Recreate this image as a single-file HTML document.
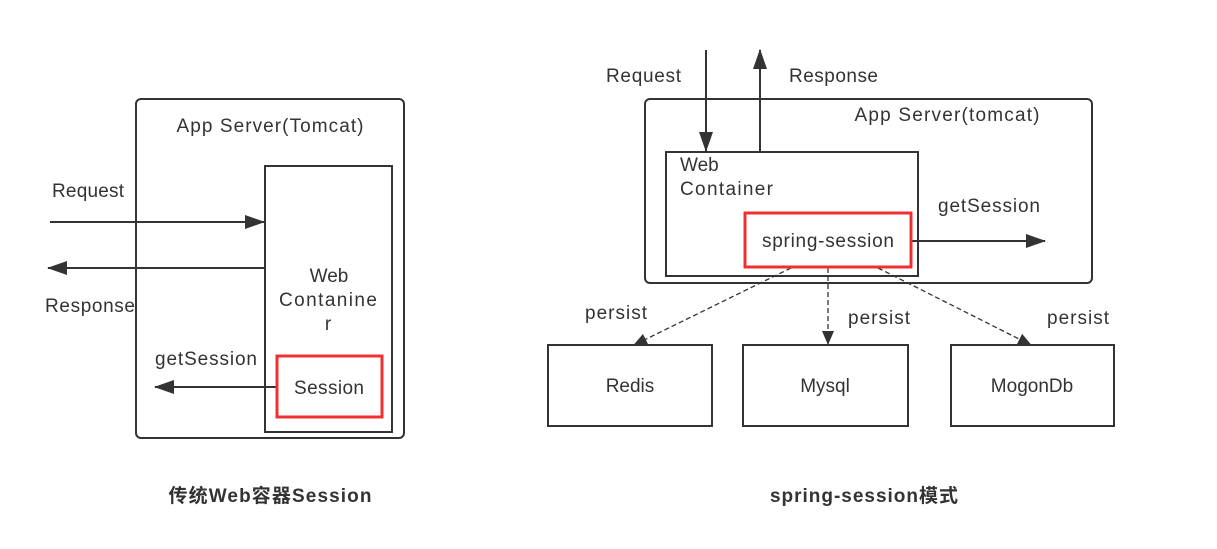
<!DOCTYPE html>
<html><head><meta charset="utf-8"><style>
html,body{margin:0;padding:0;background:#fff;}
svg text{font-family:"Liberation Sans","Noto Sans CJK SC",sans-serif;fill:#333;font-size:19px;}
</style></head><body>
<svg width="1217" height="544" viewBox="0 0 1217 544" xmlns="http://www.w3.org/2000/svg">
<defs>
<marker id="a" markerWidth="14" markerHeight="12" refX="13" refY="6" orient="auto" markerUnits="userSpaceOnUse"><path d="M0,0 L14,6 L0,12 Z" fill="#333"/></marker>
<marker id="b" markerWidth="20" markerHeight="14" refX="19" refY="7" orient="auto" markerUnits="userSpaceOnUse"><path d="M0,0 L20,7 L0,14 Z" fill="#333"/></marker>
</defs>
<g fill="none" stroke="#333" stroke-width="2">
<rect x="136" y="99" width="268" height="339" rx="5"/>
<rect x="265" y="166" width="127" height="266"/>
<line x1="50" y1="222" x2="264" y2="222" marker-end="url(#b)"/>
<line x1="265" y1="268" x2="48" y2="268" marker-end="url(#b)"/>
<line x1="277" y1="387" x2="155" y2="387" marker-end="url(#b)"/>
<rect x="645" y="99" width="447" height="184" rx="5"/>
<rect x="666" y="152" width="252" height="124"/>
<line x1="706" y1="50" x2="706" y2="151" marker-end="url(#b)"/>
<line x1="760" y1="152" x2="760" y2="50" marker-end="url(#b)"/>
<line x1="911" y1="241" x2="1045" y2="241" marker-end="url(#b)"/>
<rect x="548" y="345" width="164" height="81"/>
<rect x="743" y="345" width="165" height="81"/>
<rect x="951" y="345" width="163" height="81"/>
</g>
<g fill="none" stroke="#333" stroke-width="1.3" stroke-dasharray="5,3">
<line x1="791" y1="268" x2="634" y2="345" marker-end="url(#a)"/>
<line x1="828" y1="268" x2="828" y2="344" marker-end="url(#a)"/>
<line x1="878" y1="268" x2="1031" y2="345" marker-end="url(#a)"/>
</g>
<rect x="277" y="356" width="105" height="61" fill="#fff" stroke="#f03030" stroke-width="3"/>
<rect x="745" y="213" width="166" height="54" fill="#fff" stroke="#f03030" stroke-width="3"/>
<text x="270" y="132" text-anchor="middle" textLength="187">App Server(Tomcat)</text>
<text x="52" y="197" textLength="72">Request</text>
<text x="45" y="312" textLength="90">Response</text>
<text x="155" y="365" textLength="102">getSession</text>
<text x="329" y="282" text-anchor="middle">Web</text>
<text x="328" y="306" text-anchor="middle" textLength="98">Contanine</text>
<text x="328" y="330" text-anchor="middle">r</text>
<text x="329" y="394" text-anchor="middle" textLength="70">Session</text>
<text x="606" y="82" textLength="75">Request</text>
<text x="789" y="82" textLength="89">Response</text>
<text x="947" y="121" text-anchor="middle" textLength="185">App Server(tomcat)</text>
<text x="680" y="171">Web</text>
<text x="680" y="195" textLength="93">Container</text>
<text x="938" y="212" textLength="102">getSession</text>
<text x="828" y="247" text-anchor="middle" textLength="132">spring-session</text>
<text x="585" y="319" textLength="62">persist</text>
<text x="848" y="324" textLength="62">persist</text>
<text x="1047" y="324" textLength="62">persist</text>
<text x="630" y="392" text-anchor="middle">Redis</text>
<text x="825" y="392" text-anchor="middle">Mysql</text>
<text x="1032" y="392" text-anchor="middle">MogonDb</text>
<text x="270" y="502" text-anchor="middle" font-weight="bold" style="font-size:19px" textLength="203">传统Web容器Session</text>
<text x="864" y="502" text-anchor="middle" font-weight="bold" style="font-size:19px" textLength="188">spring-session模式</text>
</svg>
</body></html>
